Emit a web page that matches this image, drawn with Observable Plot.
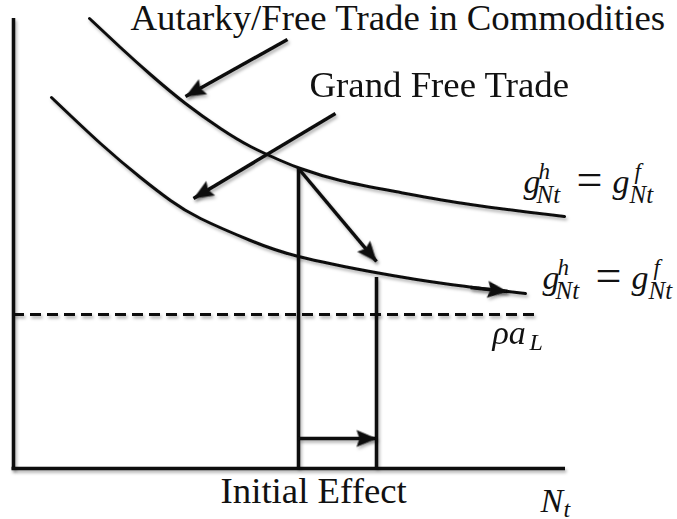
<!DOCTYPE html>
<html>
<head>
<meta charset="utf-8">
<script src="https://cdn.jsdelivr.net/npm/d3@7"></script>
<script src="https://cdn.jsdelivr.net/npm/@observablehq/plot@0.6"></script>
<style>
  body { margin: 0; background: #fff; }
  #chart { width: 677px; height: 519px; }
</style>
</head>
<body>
<div id="chart"></div>
<script>
// Diagram space: x = N (variety count), y = growth rate measured downward in screen units.
const autarkyCurve = [[89,18],[120,47],[150,74],[185,103],[220,128],[250,146],[280,160],[300,168],[340,180],[400,192],[470,204],[564,216]];
const grandCurve = [[51,97],[100,143],[140,177],[170,200],[200,218],[250,240],[298,256],[375,272],[450,284],[525,293]];

// Axes of the diagram
const vAxis = [{x: 13, y1: 18, y2: 469.5}];
const hAxis = [{y: 468, x1: 11.5, x2: 565}];
// Long-run level rho * a_L
const rhoLine = [{y: 314, x1: 13, x2: 540}];

// N before and after the shift
const nLines = [{x: 298, y1: 168, y2: 468}, {x: 376, y1: 277, y2: 468}];

// Arrows: from -> to (tip at "to")
const arrows = [
  {x1: 287, y1: 39,  x2: 185, y2: 96},   // Autarky label -> upper curve
  {x1: 335, y1: 113, x2: 193, y2: 198},  // Grand Free Trade label -> lower curve
  {x1: 298, y1: 168, x2: 376, y2: 261},  // shift of the curve
  {x1: 298, y1: 438, x2: 376, y2: 438},  // initial effect on N
  {x1: 470, y1: 287, x2: 507, y2: 291}   // movement along the new curve
];

const labels = [
  {text: "Autarky/Free Trade in Commodities", x: 130, y: 29},
  {text: "Grand Free Trade", x: 309, y: 96},
  {text: "Initial Effect", x: 220, y: 502}
];

// Anchors (left of first g, baseline) of the two g^h_Nt = g^f_Nt labels
const eqAnchors = [{x: 523, y: 192}, {x: 542, y: 288}];

const rhoLabel = [{x: 492, y: 343}];
const nLabel = [{x: 540, y: 511}];

const ink = "#111";
const serif = "Liberation Serif";

// Filled, slightly elongated arrowhead with its tip at the origin, pointing up
const head = (len, half) => ({
  draw(ctx) {
    ctx.moveTo(0, 0);
    ctx.lineTo(-half, len);
    ctx.lineTo(0, len * 0.85);
    ctx.lineTo(half, len);
    ctx.closePath();
  }
});
const angle = d => Math.atan2(d.x2 - d.x1, -(d.y2 - d.y1)) * 180 / Math.PI;

const txt = (data, text, opts) =>
  Plot.text(data, {x: "x", y: "y", text: () => text, textAnchor: "start", lineAnchor: "bottom",
    fontFamily: serif, fill: ink, ...opts});

const chart = Plot.plot({
  width: 677,
  height: 519,
  margin: 0,
  x: {domain: [0, 677], range: [0, 677], axis: null},
  y: {domain: [0, 519], range: [0, 519], axis: null},
  marks: [
    // axes
    Plot.ruleX(vAxis, {x: "x", y1: "y1", y2: "y2", stroke: ink, strokeWidth: 3.5}),
    Plot.ruleY(hAxis, {y: "y", x1: "x1", x2: "x2", stroke: ink, strokeWidth: 3.5}),
    // dashed level
    Plot.ruleY(rhoLine, {y: "y", x1: "x1", x2: "x2", stroke: ink, strokeWidth: 3, strokeDasharray: "11,6"}),
    // curves
    Plot.line(autarkyCurve, {x: d => d[0], y: d => d[1], curve: "natural", stroke: ink, strokeWidth: 3}),
    Plot.line(grandCurve, {x: d => d[0], y: d => d[1], curve: "natural", stroke: ink, strokeWidth: 3}),
    // verticals at the old and new N
    Plot.ruleX(nLines, {x: "x", y1: "y1", y2: "y2", stroke: ink, strokeWidth: 3.5}),
    // arrow shafts and heads
    Plot.link(arrows, {x1: "x1", y1: "y1", x2: "x2", y2: "y2", stroke: ink, strokeWidth: 3.5}),
    Plot.dot(arrows, {x: "x2", y: "y2", rotate: angle, symbol: head(20, 8.5), fill: ink, stroke: "none", r: 5}),
    // text labels
    Plot.text(labels, {x: "x", y: "y", text: "text", fontSize: 36.8, fontFamily: serif,
      textAnchor: "start", lineAnchor: "bottom", fill: ink}),
    // g^h_Nt = g^f_Nt
    txt(eqAnchors, "g", {fontSize: 34, fontStyle: "italic"}),
    txt(eqAnchors, "h", {dx: 15, dy: -14, fontSize: 23, fontStyle: "italic"}),
    txt(eqAnchors, "Nt", {dx: 13, dy: 10, fontSize: 25, fontStyle: "italic"}),
    txt(eqAnchors, "=", {dx: 53, dy: 2, fontSize: 46}),
    txt(eqAnchors, "g", {dx: 89, fontSize: 34, fontStyle: "italic"}),
    txt(eqAnchors, "f", {dx: 111, dy: -14, fontSize: 23, fontStyle: "italic"}),
    txt(eqAnchors, "Nt", {dx: 106, dy: 10, fontSize: 25, fontStyle: "italic"}),
    // rho a_L
    txt(rhoLabel, "ρa", {fontSize: 34, fontStyle: "italic"}),
    txt(rhoLabel, "L", {dx: 37, dy: 6, fontSize: 24, fontStyle: "italic"}),
    // N_t
    txt(nLabel, "N", {fontSize: 34, fontStyle: "italic"}),
    txt(nLabel, "t", {dx: 23, dy: 5, fontSize: 24, fontStyle: "italic"})
  ]
});

const svg = d3.select(chart);
// serif face for every label
svg.selectAll("text").style("font-family", "'Liberation Serif', 'Times New Roman', serif");

// soft drop shadow under the drawn strokes (user-space region so straight rules keep their extent)
svg.insert("defs", ":first-child").append("filter")
  .attr("id", "shade").attr("filterUnits", "userSpaceOnUse")
  .attr("x", -20).attr("y", -20).attr("width", 720).attr("height", 560)
  .append("feDropShadow")
  .attr("dx", 1.5).attr("dy", 2.5).attr("stdDeviation", 1.6)
  .attr("flood-color", "#000").attr("flood-opacity", 0.3);
svg.selectAll("g[aria-label]").filter(function () {
  const l = this.getAttribute("aria-label");
  return l === "line" || l === "link" || l === "rule" || l === "dot";
}).attr("filter", "url(#shade)");

document.getElementById("chart").appendChild(chart);
</script>
</body>
</html>
